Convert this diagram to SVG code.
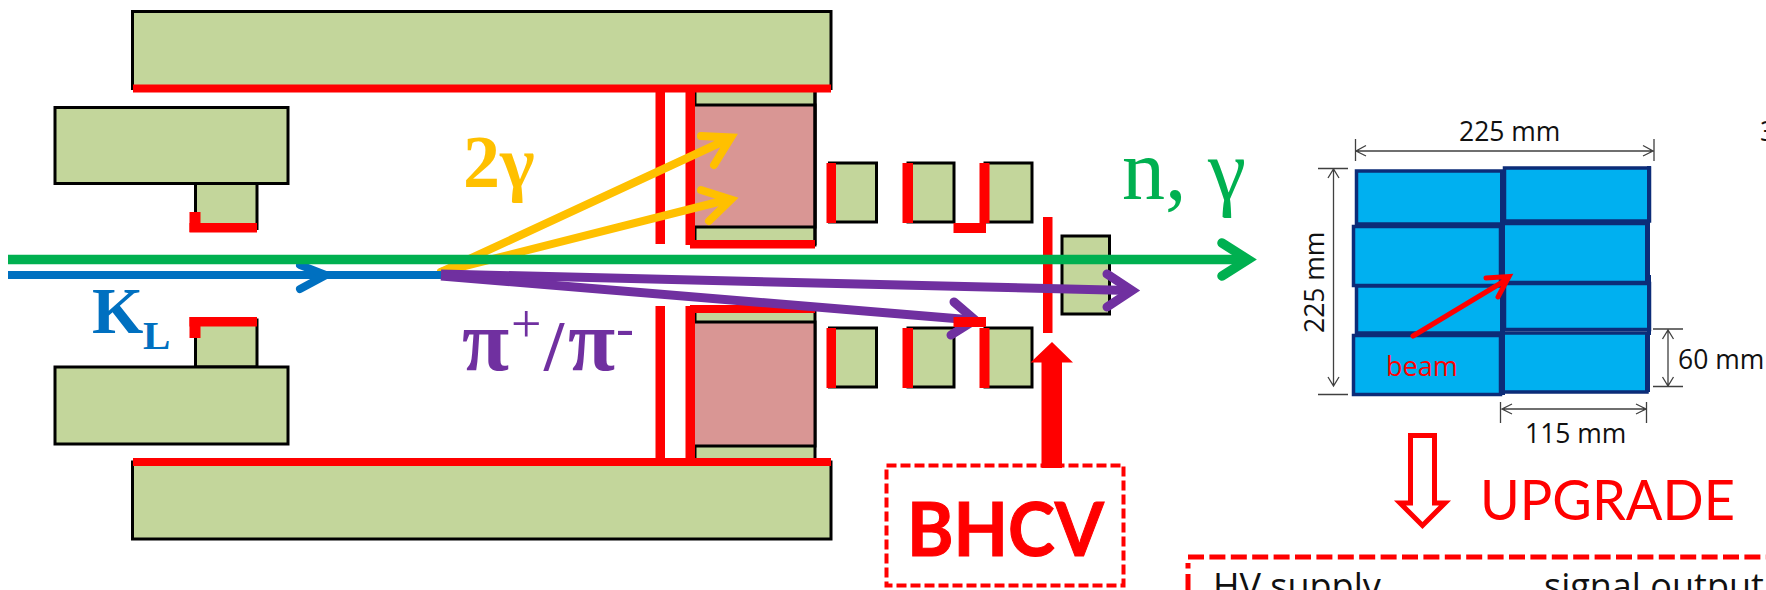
<svg xmlns="http://www.w3.org/2000/svg" width="1766" height="590" viewBox="0 0 1766 590">
<style>
.g{fill:#c3d69b;stroke:#000;stroke-width:3}
.p{fill:#d99694;stroke:#000;stroke-width:3}
.r{fill:#f00}
.bl{fill:#00b0f0;stroke:#0c2c78;stroke-width:3.500}
.side{fill:#0c2c78}
.ln{fill:none;stroke-linecap:round;stroke-linejoin:miter}
.dim{fill:none;stroke:#404040;stroke-width:1.3}
.od{font-family:"Open Sans",sans-serif;font-size:26.500px;fill:#111}
.ts{font-family:"Liberation Serif",serif}
.cb{font-family:Lato,sans-serif}
</style>
<rect width="1766" height="590" fill="#fff"/>
<g id="magnet-top"><rect class="g" x="132.500" y="11.500" width="698.500" height="77"/></g>
<g id="magnet-bottom"><rect class="g" x="132.500" y="462" width="698.500" height="77"/></g>
<g id="collimator-top"><rect class="g" x="55" y="107.500" width="233" height="76"/><rect class="g" x="195.500" y="183.500" width="61.500" height="45"/></g>
<g id="collimator-bottom"><rect class="g" x="195.500" y="320" width="61.500" height="47"/><rect class="g" x="55" y="367" width="233" height="77"/></g>
<g id="calorimeter-top">
<rect class="g" x="695" y="88" width="120" height="157"/><rect class="p" x="693" y="105" width="122" height="122"/><path d="M815 88V245" stroke="#000" stroke-width="3"/>
</g>
<g id="calorimeter-bottom">
<rect class="g" x="695" y="309" width="120" height="153"/><rect class="p" x="693" y="322" width="122" height="124"/>
</g>
<g id="blocks-top"><rect class="g" x="829.500" y="163" width="47" height="59"/><rect class="g" x="908" y="163" width="46" height="59"/><rect class="g" x="985" y="163" width="47" height="59"/></g>
<g id="blocks-bottom"><rect class="g" x="829.500" y="328" width="47" height="59"/><rect class="g" x="908" y="328" width="46" height="59"/><rect class="g" x="985" y="328" width="47" height="59"/></g>
<g id="beam-block"><rect class="g" x="1062" y="236" width="47.500" height="78"/></g>
<g id="veto-linings">
<rect class="r" x="133" y="84.500" width="698" height="8"/><rect class="r" x="133" y="458" width="698" height="8"/>
<rect class="r" x="189.500" y="223" width="67.500" height="9.500"/><rect class="r" x="189.500" y="212" width="11" height="20"/>
<rect class="r" x="189.500" y="317" width="67.500" height="9.500"/><rect class="r" x="189.500" y="317" width="11" height="21"/>
<rect class="r" x="655.500" y="88" width="9.500" height="156"/><rect class="r" x="655.500" y="306" width="9.500" height="156"/>
<rect class="r" x="685.500" y="88" width="9.500" height="157"/><rect class="r" x="685.500" y="306" width="9.500" height="156"/>
<rect class="r" x="690" y="240" width="125" height="8.500"/><rect class="r" x="690" y="305" width="125" height="8"/>
<rect class="r" x="826.500" y="163" width="9.500" height="60"/><rect class="r" x="902.500" y="163" width="10.500" height="60"/><rect class="r" x="979.500" y="163" width="10" height="60"/>
<rect class="r" x="953.500" y="223" width="32.500" height="10"/>
<rect class="r" x="826.500" y="328" width="9.500" height="60"/><rect class="r" x="902.500" y="328" width="10.500" height="60"/><rect class="r" x="979.500" y="328" width="10" height="60"/>
</g>
<g id="connectors">
<rect class="r" x="1043" y="217" width="9.500" height="116"/>
<g class="ln" stroke="#ffc000" stroke-width="8">
<path d="M441 272L726 140M701 136L731 137.500L714 165"/>
<path d="M441 272L726 200M701 190L731 199.500L709 221"/>
</g>
<g class="ln" stroke="#0070c0" stroke-width="8"><path d="M8 275H441" stroke-linecap="butt"/><path d="M300 265L326 275L300 289"/></g>
<g class="ln" stroke="#00b050" stroke-width="9.500"><path d="M8 259.500H1246" stroke-linecap="butt"/><path d="M1222 243L1248 259.500L1222 276"/></g>
<g class="ln" stroke="#7030a0" stroke-width="9">
<path d="M441 274L1130 290.500" stroke-linecap="butt"/><path d="M1107 274L1132 290.500L1107 307"/>
<path d="M441 276L973 320" stroke-linecap="butt"/><path d="M954 302L975 320L951 335"/>
</g>
<rect class="r" x="953.500" y="317" width="32.500" height="10"/>
</g>
<g id="label-2g"><text class="ts" x="463" y="187" font-size="74" font-weight="700" fill="#ffc000">2γ</text></g>
<g id="label-kl"><text class="ts" x="92" y="333" font-size="66" font-weight="700" fill="#0070c0">K</text><text class="ts" x="143" y="349" font-size="41" font-weight="700" fill="#0070c0">L</text></g>
<g id="label-pi" class="ts" font-weight="700" fill="#7030a0"><text x="462" y="370" font-size="86">π</text><text x="511" y="342" font-size="54" font-weight="400">+</text><text x="544" y="370" font-size="72">/</text><text x="568" y="370" font-size="86">π</text><text x="616" y="346" font-size="54" font-weight="400">-</text></g>
<g id="label-ng"><text class="ts" x="1122" y="198.500" font-size="86" fill="#00b050">n, γ</text></g>
<g id="bhcv">
<rect x="886.500" y="465.500" width="237" height="120" fill="none" stroke="#f00" stroke-width="4" stroke-dasharray="10 4"/>
<path class="r" d="M1052 342L1073 362.500H1062V468H1041.500V362.500H1030.500Z"/>
<text class="cb" x="907" y="556" font-size="75" font-weight="700" fill="#f00" stroke="#f00" stroke-width="1" textLength="197" lengthAdjust="spacingAndGlyphs">BHCV</text>
</g>
<g id="scintillator">
<rect class="bl" x="1356.500" y="171" width="146" height="53"/>
<rect class="bl" x="1353.500" y="226.500" width="147" height="59"/>
<rect class="bl" x="1356.500" y="286" width="146" height="47"/>
<rect class="bl" x="1353.500" y="335.500" width="147" height="59"/>
<rect class="bl" x="1504.500" y="168" width="145" height="53"/>
<rect class="bl" x="1503" y="223.500" width="144" height="59"/>
<rect class="bl" x="1504.500" y="283.500" width="145" height="46"/>
<rect class="bl" x="1503" y="333" width="144" height="59"/>
<rect class="side" x="1500" y="170" width="5" height="225"/>
<rect class="side" x="1647" y="166" width="4" height="56"/><rect class="side" x="1645" y="222" width="5" height="60"/><rect class="side" x="1647" y="275" width="4" height="60"/><rect class="side" x="1645" y="332" width="5" height="60"/>
</g>
<g id="beam-arrow"><path class="ln" d="M1413 336L1506 280M1486 278L1509 276.500L1498 297" stroke="#f00" stroke-width="5"/></g>
<g id="dimensions">
<path class="dim" d="M1356 151H1653M1366 145.500L1356 151L1366 156M1643 145.500L1653 151L1643 156M1355.500 139V161M1654 139V161"/>
<path class="dim" d="M1333.500 169V386M1328 178L1333.500 169L1339 178M1328 377L1333.500 386L1339 377M1318 168.500H1348M1318 394.500H1348"/>
<path class="dim" d="M1668 330V386M1662.500 339L1668 330L1673.500 339M1662.500 377L1668 386L1673.500 377M1653 329H1683M1653 386.500H1683"/>
<path class="dim" d="M1502 409H1646M1512 404L1502 409L1512 414M1636 404L1646 409L1636 414M1500.500 402V423M1646.500 402V423"/>
<text class="od" x="1459" y="140.500">225 mm</text>
<text class="od" x="1760" y="141">3</text>
<text class="od" transform="translate(1323.500 333) rotate(-90)">225 mm</text>
<text class="od" x="1678" y="369">60 mm</text>
<text class="od" x="1525" y="442.500">115 mm</text>
<text x="1386" y="376" font-family="Open Sans,sans-serif" font-size="27" fill="#f00">beam</text>
</g>
<g id="upgrade">
<path d="M1410.500 435.500H1434.500V503H1445L1422.500 525.500L1400 503H1410.500Z" fill="#fff" stroke="#f00" stroke-width="5"/>
<text class="cb" x="1480" y="520" font-size="56" fill="#f00" textLength="255" lengthAdjust="spacingAndGlyphs">UPGRADE</text>
</g>
<g id="upgrade-box">
<path d="M1188 557H1766M1188 590V563" fill="none" stroke="#f00" stroke-width="5" stroke-dasharray="16 5.400"/>
<text x="1213" y="599" font-family="Open Sans,sans-serif" font-size="36" fill="#111">HV supply</text>
<text x="1544" y="599" font-family="Open Sans,sans-serif" font-size="36" fill="#111">signal output</text>
</g>
</svg>
